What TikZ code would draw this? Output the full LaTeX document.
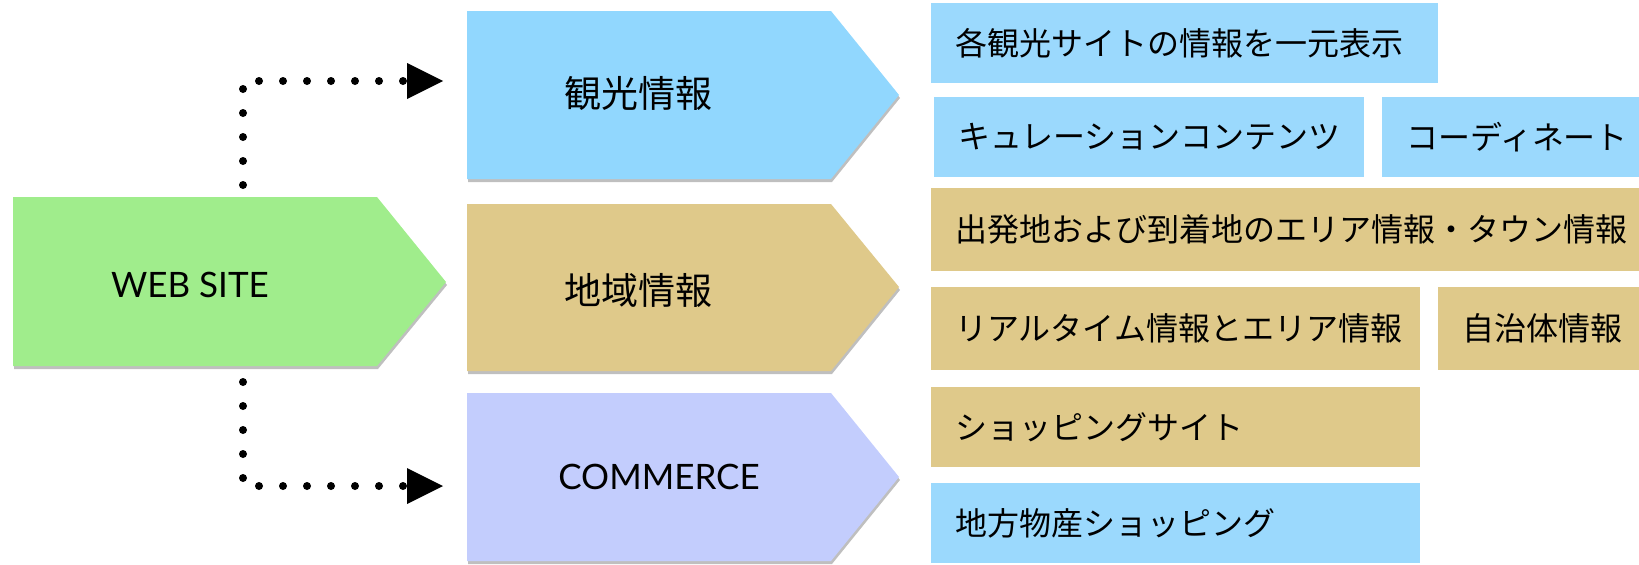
\documentclass[tikz,border=0pt]{standalone}
\usepackage{fontspec}
\setmainfont{Lato}
\newfontfamily\jp{Noto Sans CJK JP}
\usetikzlibrary{arrows.meta,shadows}
\definecolor{cgreen}{HTML}{A0ED8C}
\definecolor{cblue}{HTML}{91D7FE}
\definecolor{cboxblue}{HTML}{9BD9FD}
\definecolor{ctan}{HTML}{DFC98A}
\definecolor{clav}{HTML}{C3CDFD}
\tikzset{
  pent/.style={drop shadow={shadow xshift=1pt,shadow yshift=-3pt,opacity=0.25,fill=black}},
  pentlabel/.style={inner sep=0pt,anchor=center},
  rbox/.style={anchor=north west,inner xsep=0pt,inner ysep=0pt,align=left,font=\jp\fontsize{32}{36}\selectfont},
  dotconn/.style={line width=8pt,line cap=round,dash pattern=on 0pt off 24pt,
    -{Triangle[length=36pt,width=36pt,line width=0pt,sharp]}},
}
\newcommand\rb[7]{% name, x1,y1,x2,y2, colour, text
  \fill[#6] (#2,#3) rectangle (#4,#5);
  \node[rbox] (#1) at (#2+24,{(#3+#5)/2}) [anchor=west] {#7};
}
\begin{document}
\begin{tikzpicture}[x=1pt,y=-1pt]
\useasboundingbox (0,0) rectangle (1639,565);
% pentagons
\fill[cgreen,pent] (13,197) -- (377,197) -- (446,282) -- (377,366) -- (13,366) -- cycle;
\fill[cblue,pent] (467,11) -- (831,11) -- (899,95) -- (831,179) -- (467,179) -- cycle;
\fill[ctan,pent] (467,204) -- (831,204) -- (899,287) -- (831,371) -- (467,371) -- cycle;
\fill[clav,pent] (467,393) -- (831,393) -- (899,477) -- (831,561) -- (467,561) -- cycle;
\node[pentlabel,font=\fontsize{35}{40}\selectfont] (web) at (190,285) {WEB SITE};
\node[pentlabel,font=\jp\fontsize{37}{42}\selectfont] (kanko) at (638,93) {観光情報};
\node[pentlabel,font=\jp\fontsize{37}{42}\selectfont] (chiiki) at (638,290) {地域情報};
\node[pentlabel,font=\fontsize{35}{40}\selectfont] (commerce) at (659,477) {COMMERCE};
% connectors
\coordinate (wtop) at (243,185);
\coordinate (wbot) at (243,382);
\coordinate (kin) at (443,81);
\coordinate (cin) at (443,486);
\draw[dotconn] (wtop) |- (kin);
\draw[dotconn] (wbot) |- (cin);
% right boxes
\rb{b1}{931}{3}{1438}{83}{cboxblue}{各観光サイトの情報を一元表示}
\rb{b2}{934}{97}{1364}{177}{cboxblue}{キュレーションコンテンツ}
\rb{b3}{1382}{97}{1639}{177}{cboxblue}{コーディネート}
\rb{b4}{931}{188}{1639}{271}{ctan}{出発地および到着地のエリア情報・タウン情報}
\rb{b5}{931}{287}{1420}{370}{ctan}{リアルタイム情報とエリア情報}
\rb{b6}{1438}{287}{1639}{370}{ctan}{自治体情報}
\rb{b7}{931}{387}{1420}{467}{ctan}{ショッピングサイト}
\rb{b8}{931}{483}{1420}{563}{cboxblue}{地方物産ショッピング}
\end{tikzpicture}
\end{document}
